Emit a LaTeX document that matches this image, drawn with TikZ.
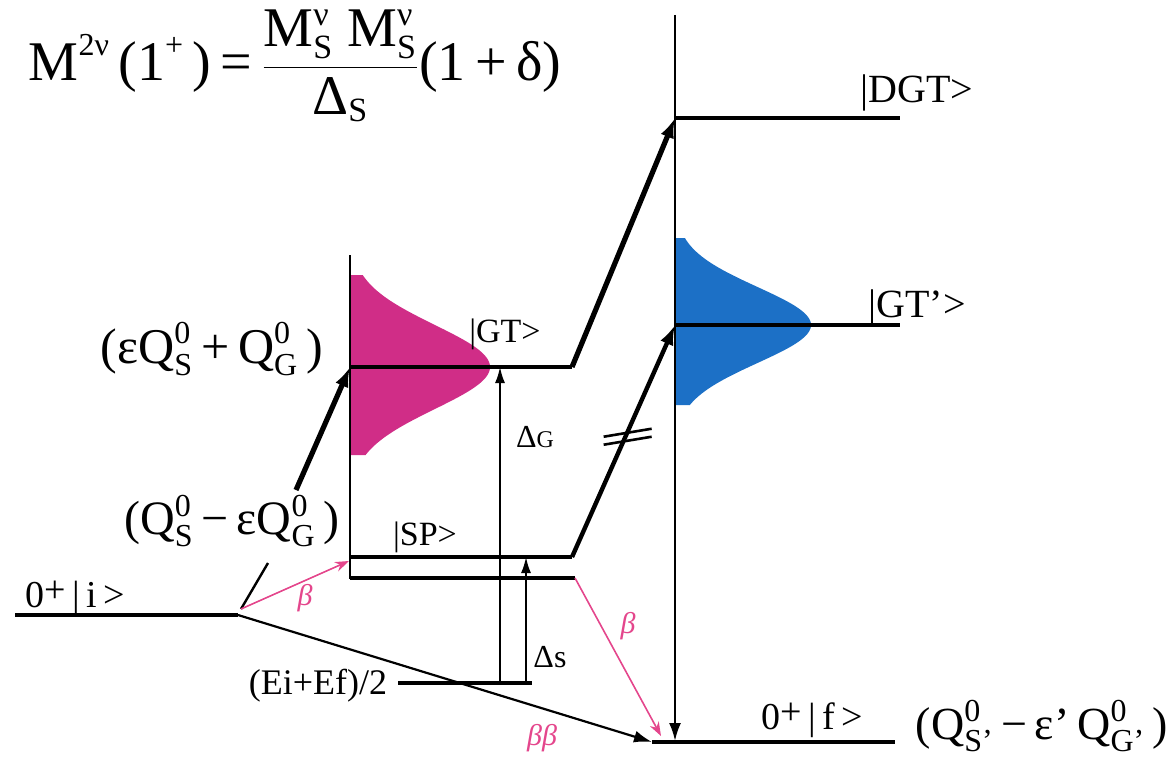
\documentclass[tikz,border=0pt]{standalone}
\usepackage{fontspec}
\setmainfont{Liberation Serif}
\usetikzlibrary{arrows.meta}
\definecolor{gtpink}{RGB}{208,45,135}
\definecolor{betapink}{RGB}{228,70,140}
\definecolor{gtblue}{RGB}{28,112,198}
\newcommand{\smallfs}{\fontsize{16}{16}\selectfont}
\newcommand{\tinyfs}{\fontsize{17}{17}\selectfont}
\newcommand{\QQ}[2]{$\hbox{Q}^{\hbox{\smallfs #1}}_{\hbox{\smallfs #2}}$}
\newcommand{\MSV}{\hbox{M}^{\hbox{\tinyfs ν}}_{\hbox{\tinyfs S}}}
\begin{document}
\begin{tikzpicture}[x=0.5pt,y=-0.5pt,
  level/.style={line width=1.6pt},
  axisline/.style={line width=1.2pt},
  thickarrow/.style={line width=2.6pt,-{Latex[length=10pt,width=7pt]}},
  thinarrow/.style={line width=0.9pt,-{Latex[length=8pt,width=5pt]}},
  betaarrow/.style={betapink,line width=0.8pt,-{Stealth[length=7pt,width=5pt]}},
  biglab/.style={inner sep=0pt,font=\fontsize{24}{26}\selectfont},
  statelab/.style={inner sep=0pt,font=\fontsize{17}{19}\selectfont},
  betalab/.style={inner sep=0pt,text=betapink,font=\fontsize{15}{16}\selectfont\itshape}]
\useasboundingbox (0,0) rectangle (1176,759);
% gaussians
\fill[gtpink] (350,275) -- plot[domain=275:455,samples=90,variable=\t]
  ({350+140*exp(-0.5*((\t-367)/42)*((\t-367)/42))},\t) -- (350,455) -- cycle;
\fill[gtblue] (675,238) -- plot[domain=238:405,samples=90,variable=\t]
  ({675+136*exp(-0.5*((\t-325)/38)*((\t-325)/38))},\t) -- (675,405) -- cycle;
% coordinates
\coordinate (iL) at (15,615);
\coordinate (iR) at (238,615);
\coordinate (leadbot) at (241,609);
\coordinate (leadtop) at (268,563);
\coordinate (gtstart) at (296,490);
\coordinate (Ltop) at (350,255);
\coordinate (Lbot) at (350,579);
\coordinate (gtL) at (350,367);
\coordinate (gtR) at (572,367);
\coordinate (spUL) at (350,557);
\coordinate (spUR) at (572,557);
\coordinate (spLL) at (350,578);
\coordinate (spLR) at (575,578);
\coordinate (b1end) at (349,561);
\coordinate (midL) at (398,683);
\coordinate (midR) at (532,683);
\coordinate (dG) at (500,683);
\coordinate (dS) at (526,683);
\coordinate (Rtop) at (675,15);
\coordinate (Rbot) at (675,741);
\coordinate (dgtL) at (675,118);
\coordinate (dgtR) at (900,118);
\coordinate (gtpL) at (675,325);
\coordinate (gtpR) at (900,325);
\coordinate (fL) at (652,742);
\coordinate (fR) at (895,742);
\coordinate (b2end) at (661,736);
% axes and levels
\draw[axisline] (Ltop) -- (Lbot);
\draw[axisline,-{Latex[length=9pt,width=6pt]}] (Rtop) -- (Rbot);
\draw[level] (iL) -- (iR);
\draw[axisline] (leadbot) -- (leadtop);
\draw[level] (gtL) -- (gtR);
\draw[level] (spUL) -- (spUR);
\draw[level] (spLL) -- (spLR);
\draw[level] (midL) -- (midR);
\draw[level] (dgtL) -- (dgtR);
\draw[level] (gtpL) -- (gtpR);
\draw[level] (fL) -- (fR);
% transitions
\draw[thickarrow] (gtstart) -- (gtL);
\draw[thickarrow] (gtR) -- (dgtL);
\draw[thickarrow,line width=2.2pt] (spUR) -- (gtpL);
\path (spUR) -- (gtpL) coordinate[pos=0.54] (brk);
\draw[line width=1.3pt] ([shift={(-24,5)}]brk) -- ([shift={(24,-3)}]brk);
\draw[line width=1.3pt] ([shift={(-24,13)}]brk) -- ([shift={(24,5)}]brk);
\draw[thinarrow] (dG) -- (dG |- gtL);
\draw[thinarrow] (dS) -- (dS |- spUL);
\draw[line width=1.1pt,-{Latex[length=9pt,width=6pt]}] (iR) -- (fL);
\draw[betaarrow] (leadbot) -- (b1end);
\draw[betaarrow] (spLR) -- (b2end);
% labels
\node[biglab,font=\fontsize{28}{32}\selectfont] (formula) at (295,66)
  {M\raisebox{0.95ex}{\fontsize{16}{16}\selectfont 2ν}\,(1\raisebox{0.95ex}{\fontsize{16}{16}\selectfont +}\,)\,=\,$\displaystyle\frac{\MSV\;\MSV}{\hbox{Δ}_{\hbox{\tinyfs S}}}$(1\,+\,δ)};
\node[biglab,font=\fontsize{19}{21}\selectfont] (ilab) at (75,598) {0\raisebox{0.3ex}{+}\,|\,i\,>};
\node[biglab] (qsg) at (232,521) {(\QQ{0}{S}\,−\,ε\QQ{0}{G}\,)};
\node[biglab,font=\fontsize{25}{27}\selectfont] (eqsg) at (212,349) {(ε\QQ{0}{S}\,+\,\QQ{0}{G}\,)};
\node[statelab] (gtlab) at (505,334) {|GT>};
\node[statelab] (splab) at (425,537) {|SP>};
\node[statelab,font=\fontsize{16}{18}\selectfont] (dglab) at (535,437) {Δ{\fontsize{12}{12}\selectfont G}};
\node[statelab,font=\fontsize{16}{18}\selectfont] (dslab) at (550,657) {Δs};
\node[statelab,font=\fontsize{18}{20}\selectfont] (midlab) at (318,686) {(Ei+Ef)/2};
\node[betalab] (bblab) at (542,738) {ββ};
\node[betalab] (b1lab) at (305,598) {β};
\node[betalab] (b2lab) at (628,626) {β};
\node[statelab,font=\fontsize{20}{22}\selectfont] (dgtlab) at (917,93) {|DGT>};
\node[statelab,font=\fontsize{20}{22}\selectfont] (gtplab) at (917,308) {|GT'>};
\node[biglab,font=\fontsize{19}{21}\selectfont] (flab) at (812,720) {0\raisebox{0.3ex}{+}\,|\,f\,>};
\node[biglab,font=\fontsize{23}{25}\selectfont] (qsgp) at (1042,726) {(\QQ{0}{S'}\,−\,ε'\,\QQ{0}{G'}\,)};
\end{tikzpicture}
\end{document}
